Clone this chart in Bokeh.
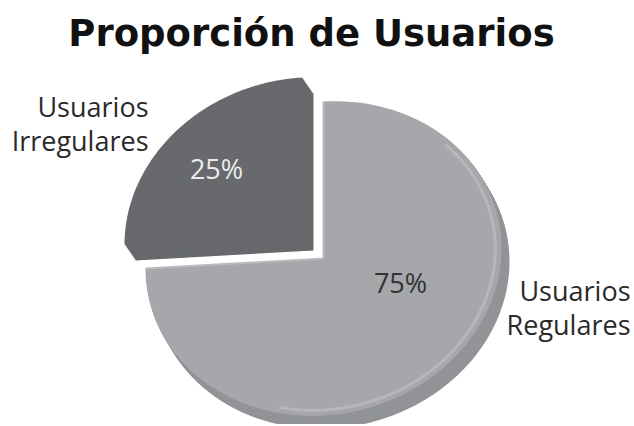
import numpy as np
from bokeh.plotting import figure
from bokeh.models import Range1d, ColumnDataSource
from bokeh.core.properties import value
from bokeh.embed import file_html
from bokeh.resources import INLINE

# ---- data ----
title_text = "Proporción de Usuarios"
categories = ["Usuarios Regulares", "Usuarios Irregulares"]
values = [75, 25]
pct_labels = ["75%", "25%"]
name_lines = [["Usuarios", "Regulares"], ["Usuarios", "Irregulares"]]

# ---- styles ----
face_colors = ["#a5a7aa", "#67696c"]
side_colors = ["#929497", "#67696c"]
pct_colors = ["#333333", "#ececec"]

W, H = 632, 424
p = figure(width=W, height=H, output_backend="svg", toolbar_location=None,
           x_range=Range1d(0, W), y_range=Range1d(H, 0),
           min_border=0, border_fill_color="white", background_fill_color="white")
p.axis.visible = False
p.grid.visible = False
p.outline_line_color = None

# perspective ellipse (page-pixel data space, y down)
apex = np.array([323.0, 258.0])
U = np.array([178.0, -10.0])
V = np.array([0.0, -157.0])
explode = [np.array([0.0, 0.0]), np.array([-21.0, -24.0])]
side_off = [np.array([8.0, 13.0]), np.array([11.0, 16.0])]


def pt(c, th):
    return c + np.cos(th) * U + np.sin(th) * V


def sector(c, t0, t1, n=120):
    ths = np.linspace(t0, t1, n)
    pts = [c] + [pt(c, t) for t in ths]
    arr = np.array(pts)
    return arr[:, 0], arr[:, 1]


total = float(sum(values))
start = np.pi / 2
angles = []
for v in values:
    sweep = v / total * 2 * np.pi
    angles.append((start, start - sweep))
    start -= sweep

# extruded sides
for i, (t0, t1) in enumerate(angles):
    c = apex + explode[i]
    xs, ys = [], []
    N = 16
    for k in range(N, 0, -1):
        x, y = sector(c + side_off[i] * k / N, t0, t1)
        xs.append(list(x)); ys.append(list(y))
    p.patches(xs, ys, fill_color=side_colors[i], line_color=None)

# top faces
for i, (t0, t1) in enumerate(angles):
    c = apex + explode[i]
    x, y = sector(c, t0, t1)
    p.patch(list(x), list(y), fill_color=face_colors[i], line_color=None)

# highlights on the large slice
c0 = apex + explode[0]
t0, t1 = angles[0]
ths = np.linspace(np.radians(45), np.radians(-105), 80)
rim = np.array([c0 + 0.965 * (np.cos(t) * U + np.sin(t) * V) for t in ths])
p.line(rim[:, 0], rim[:, 1], line_color="#b7b9bc", line_width=3, line_alpha=0.9)
edge = np.array([pt(c0, t0), c0, pt(c0, t1)])
p.line(edge[:, 0], edge[:, 1], line_color="#b9bbbe", line_width=2)

# title
p.text(x=[311], y=[33], text=[title_text], text_font=value("DejaVu Sans"),
       text_font_style="bold", text_font_size="37px", text_color="#111111",
       text_align="center", text_baseline="middle")

# percentages
pct_pos = [(400, 282), (216, 168)]
src = ColumnDataSource(dict(x=[q[0] for q in pct_pos], y=[q[1] for q in pct_pos],
                            t=pct_labels, c=pct_colors))
p.text(x="x", y="y", text="t", text_color="c", source=src,
       text_font=value("Open Sans"), text_font_size="27px",
       text_align="center", text_baseline="middle")

# category names
name_pos = [(630, 290), (148, 106)]
lx, ly, lt = [], [], []
for i, lines in enumerate(name_lines):
    for j, s in enumerate(lines):
        lx.append(name_pos[i][0]); ly.append(name_pos[i][1] + 34 * j); lt.append(s)
p.text(x=lx, y=ly, text=lt, text_color="#2a2a2a",
       text_font=value("Open Sans"), text_font_size="27px",
       text_align="right", text_baseline="middle")

open("out.html", "w").write(file_html(p, INLINE))
